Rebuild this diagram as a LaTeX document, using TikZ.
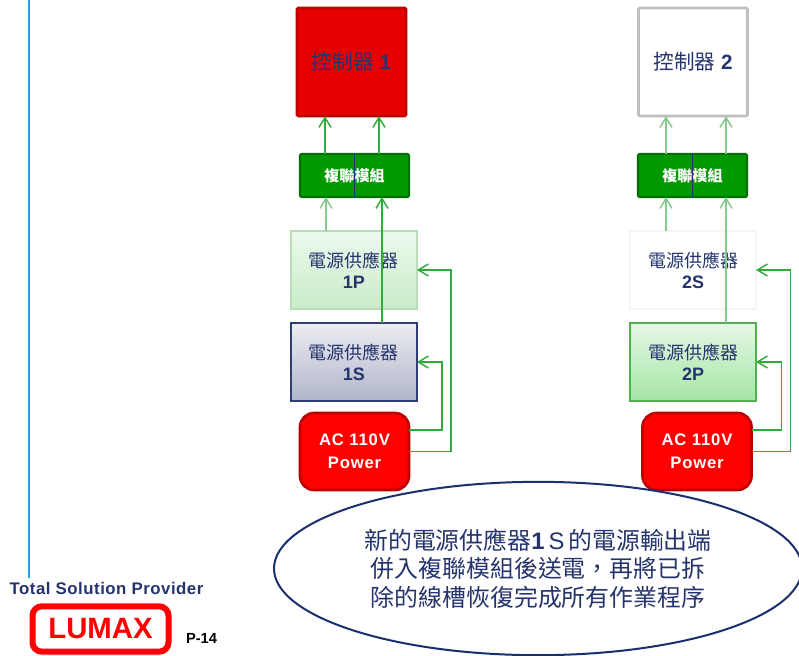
\documentclass[tikz,border=0pt]{standalone}
\usepackage{fontspec}
\setmainfont{Liberation Sans}
\newfontfamily\cjk{Noto Sans CJK TC}
\usetikzlibrary{positioning,arrows.meta,shapes.geometric}

\definecolor{navytext}{HTML}{26346E}
\definecolor{navyline}{HTML}{1B2F6E}
\definecolor{feedgreen}{HTML}{30AB3C}
\definecolor{feedpale}{HTML}{86C98C}
\newcommand{\pxsize}[1]{\fontsize{#1}{#1}\selectfont}

\begin{document}
\begin{tikzpicture}[x=0.75pt,y=-0.75pt,
  outer sep=0pt,
  feed/.style={draw=feedgreen,line width=1.1pt,-{Straight Barb[length=7.5pt,width=9pt]}},
  feedlight/.style={feed,draw=feedpale},
  ctrlbox/.style={rectangle,rounded corners=1pt,minimum width=81.75pt,minimum height=81pt,line width=2pt,text=navytext,font=\pxsize{15.5}},
  muxbox/.style={rectangle,rounded corners=1pt,draw={rgb,255:red,0;green,112;blue,0},fill={rgb,255:red,0;green,153;blue,0},minimum width=81.75pt,minimum height=32.25pt,line width=1.6pt,text=white,font=\pxsize{11.3}\bfseries},
  psubox/.style={rectangle,minimum width=94.5pt,minimum height=58.5pt,line width=1pt,text=navytext,align=center,font=\pxsize{13.5},text depth=0pt},
  acbox/.style={rectangle,rounded corners=10.5pt,draw={rgb,255:red,190;green,0;blue,0},fill={rgb,255:red,255;green,0;blue,0},minimum width=81.75pt,minimum height=57.75pt,line width=2pt,text=white,align=center,font=\pxsize{12.5}\bfseries\addfontfeature{LetterSpace=5}}]

\useasboundingbox (0,0) rectangle (799,656);
\clip (0,0) rectangle (799,656);

\coordinate (railtop) at (29,0);
\coordinate (railend) at (29,578);
\draw [draw={rgb,255:red,28;green,168;blue,221},line width=1.5pt] (railtop) -- (railend);

% left stack
\node (ctrlone) [ctrlbox,draw={rgb,255:red,192;green,0;blue,0},fill={rgb,255:red,230;green,0;blue,0}] at (351.5,62) {\raisebox{-.7pt}{{\cjk 控制器} \textbf{1}}};
\node (muxone) [muxbox,below=28.5pt of ctrlone,xshift=2.25pt] {\raisebox{-.7pt}{\cjk\bfseries 複聯模組}};
\node (psuonep) [psubox,draw={rgb,255:red,184;green,222;blue,184},top color={rgb,255:red,236;green,249;blue,236},bottom color={rgb,255:red,201;green,236;blue,201},below=25.5pt of muxone,xshift=-.4pt] {{\cjk 電源供應器}\\[2.5pt]\textbf{1P}};
\node (psuones) [psubox,draw={rgb,255:red,47;green,63;blue,117},top color={rgb,255:red,236;green,236;blue,241},bottom color={rgb,255:red,176;green,181;blue,202},below=10.5pt of psuonep] {{\cjk 電源供應器}\\[2.5pt]\textbf{1S}};
\node (acone) [acbox,below=9pt of psuones,xshift=.4pt] {AC 110V\\[4.5pt]Power};

% right stack
\node (ctrltwo) [ctrlbox,draw={rgb,255:red,191;green,191;blue,191},fill=white] at (693,62) {\raisebox{1.2pt}{{\cjk 控制器} \textbf{2}}};
\node (muxtwo) [muxbox,below=28.5pt of ctrltwo,xshift=-.4pt] {\raisebox{-.7pt}{\cjk\bfseries 複聯模組}};
\node (psutwos) [psubox,draw={rgb,255:red,245;green,245;blue,245},fill=white,below=25.5pt of muxtwo,xshift=.4pt] {{\cjk 電源供應器}\\[2.5pt]\textbf{2S}};
\node (psutwop) [psubox,draw={rgb,255:red,80;green,176;blue,80},top color={rgb,255:red,230;green,247;blue,230},bottom color={rgb,255:red,165;green,229;blue,165},below=10.5pt of psutwos] {{\cjk 電源供應器}\\[2.5pt]\textbf{2P}};
\node (actwo) [acbox,below=9pt of psutwop,xshift=3pt] {AC 110V\\[4.5pt]Power};

\draw [draw=navyline,line width=1pt] (muxone.north) -- (muxone.south);
\draw [draw=navyline,line width=1pt] (muxtwo.north) -- (muxtwo.south);

\draw [feed] ([xshift=-22.15pt]muxone.north) -- ([xshift=-19.9pt]ctrlone.south);
\draw [feed] ([xshift=18.35pt]muxone.north) -- ([xshift=20.6pt]ctrlone.south);
\draw [feedlight] ([xshift=-21pt]psuonep.north) -- ([xshift=-21.4pt]muxone.south);
\draw [feed] ([xshift=21pt]psuones.north) -- ([xshift=20.6pt]muxone.south);
\draw [feedlight] ([xshift=-19.85pt]muxtwo.north) -- ([xshift=-20.25pt]ctrltwo.south);
\draw [feedlight] ([xshift=25.15pt]muxtwo.north) -- ([xshift=24.75pt]ctrltwo.south);
\draw [feedlight] ([xshift=-20.25pt]psutwos.north) -- ([xshift=-19.85pt]muxtwo.south);
\draw [feedlight] ([xshift=24.75pt]psutwop.north) -- ([xshift=25.15pt]muxtwo.south);

\draw [feed] ([yshift=16pt]acone.east) -- ++(33,0) |- (psuones.east);
\draw [feed] (acone.east) -- ++(42,0) |- (psuonep.east);
\draw [feed] ([yshift=16pt]actwo.east) -- ++(30,0) |- (psutwop.east);
\draw [feed] (actwo.east) -- ++(39,0) |- (psutwos.east);

\node (note) [ellipse,draw=navyline,fill=white,line width=1.5pt,minimum width=396pt,minimum height=130pt,text=navytext,align=center,font=\pxsize{17.9}] at (538,568.5)
  {{\cjk 新的電源供應器}\textbf{1}\,S\,{\cjk 的電源輸出端}\\[3.4pt]{\cjk 併入複聯模組後送電\symbol{"FF0C}再將已拆}\\[3.4pt]{\cjk 除的線槽恢復完成所有作業程序}};

\node (slogan) [text=navytext,font=\pxsize{12.6}\bfseries\addfontfeature{LetterSpace=3}] at (106.5,588) {Total Solution Provider};
\node (logo) [rectangle,rounded corners=7pt,draw={rgb,255:red,255;green,0;blue,0},line width=4.5pt,minimum width=102pt,minimum height=34pt,text={rgb,255:red,255;green,0;blue,0},font=\pxsize{22}\bfseries] at (100.5,629) {LUMAX};
\node (page) [text=black,font=\pxsize{11}\bfseries] at (201.5,638.5) {P-14};

\end{tikzpicture}
\end{document}
